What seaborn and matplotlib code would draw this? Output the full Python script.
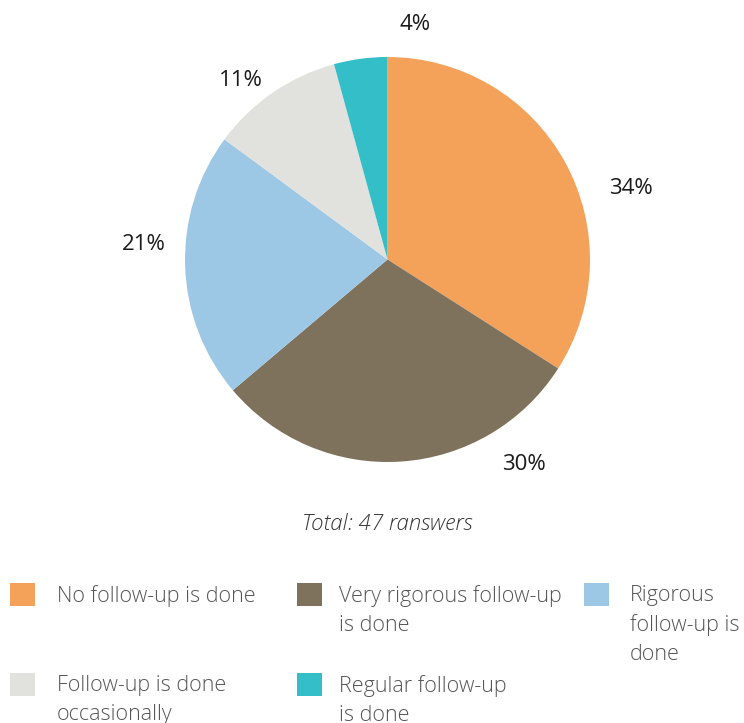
import matplotlib
matplotlib.use("Agg")
import matplotlib.pyplot as plt
import seaborn as sns
from matplotlib.patches import Rectangle

sns.set_theme(style="white")
plt.rcParams['font.family'] = ['Open Sans', 'DejaVu Sans']

categories = ["No follow-up is done", "Very rigorous follow-up is done",
              "Rigorous follow-up is done", "Follow-up is done occasionally",
              "Regular follow-up is done"]
legend_labels = ["No follow-up is done", "Very rigorous follow-up\nis done",
                 "Rigorous\nfollow-up is\ndone", "Follow-up is done\noccasionally",
                 "Regular follow-up\nis done"]
counts = [16, 14, 10, 5, 2]
pct_labels = ["34%", "30%", "21%", "11%", "4%"]
colors = ["#F4A25A", "#7F725C", "#9CC8E5", "#E1E1DD", "#33BEC8"]
total_text = "Total: 47 ranswers"

W, H = 744, 723
fig = plt.figure(figsize=(W / 100, H / 100), dpi=100)
ax = fig.add_axes([0, 0, 1, 1])
ax.axis("off")

cx, cy, r = 387.5, 259.5, 202.5
ax.pie(counts, colors=colors, startangle=90, counterclock=False,
       center=(cx, H - cy), radius=r, wedgeprops=dict(linewidth=0))
ax.set_xlim(0, W)
ax.set_ylim(0, H)
ax.set_aspect("equal")
ax.axis("off")

label_pos = [(631, 189), (524, 465), (144, 245), (241, 81), (415, 25)]
for lab, (x, y) in zip(pct_labels, label_pos):
    ax.text(x, H - y, lab, ha="center", va="center", fontsize=16, color="#1a1a1a")

ax.text(387.5, H - 524, total_text, ha="center", va="center", fontsize=16,
        style="italic", color="#333333", fontweight="light")

# legend
col_x = [10, 297, 584]
text_x = [57, 339, 630]
row_y = [583, 673]
order = [(0, 0), (0, 1), (0, 2), (1, 0), (1, 1)]
for i, (row, col) in enumerate(order):
    x0 = col_x[col]
    y0 = row_y[row]
    ax.add_patch(Rectangle((x0, H - y0 - 23), 25, 23, color=colors[i], linewidth=0))
    ax.text(text_x[col], H - y0 - 2, legend_labels[i], ha="left", va="top",
            fontsize=15.5, color="#555555", fontweight="light", linespacing=1.48)

fig.savefig("out.png", dpi=100)
